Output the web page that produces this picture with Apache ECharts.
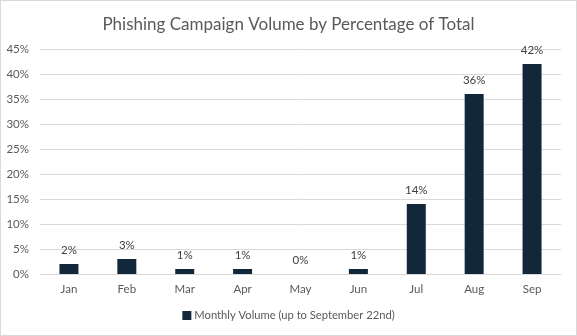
<!DOCTYPE html>
<html>
<head>
<meta charset="utf-8">
<script src="https://cdn.jsdelivr.net/npm/echarts@6/dist/echarts.min.js"></script>
<style>
  html, body { margin: 0; padding: 0; background: #fff; }
  #chart { width: 577px; height: 336px; box-sizing: border-box; border: 1px solid #d9d9d9; }
</style>
</head>
<body>
<div id="chart"></div>
<script>
// Monthly share of phishing campaign volume (percent of total)
const months = ['Jan', 'Feb', 'Mar', 'Apr', 'May', 'Jun', 'Jul', 'Aug', 'Sep'];
const volumePct = [2, 3, 1, 1, 0, 1, 14, 36, 42];
const seriesName = 'Monthly Volume (up to September 22nd)';
const yTicks = { min: 0, max: 45, interval: 5 };

const FONT = 'Lato, "Open Sans", sans-serif';
const chart = echarts.init(document.getElementById('chart'), null, { renderer: 'canvas' });

chart.setOption({
  animation: false,
  backgroundColor: '#ffffff',
  textStyle: { fontFamily: FONT },
  title: {
    text: 'Phishing Campaign Volume by Percentage of Total',
    left: 'center',
    top: 10,
    textStyle: { fontFamily: FONT, fontSize: 17, fontWeight: 'normal', color: '#595959' }
  },
  grid: { left: 39, right: 15, top: 48, bottom: 61, containLabel: false },
  legend: {
    bottom: 9,
    left: 'center',
    itemWidth: 9,
    itemHeight: 9,
    itemGap: 4,
    icon: 'rect',
    textStyle: { fontFamily: FONT, fontSize: 11.2, color: '#595959', padding: [0, 0, 0, -2] },
    data: [seriesName]
  },
  xAxis: {
    type: 'category',
    data: months,
    axisLine: { lineStyle: { color: '#d9d9d9' } },
    axisTick: { show: false },
    axisLabel: { color: '#595959', fontSize: 11.5, margin: 9, fontFamily: FONT }
  },
  yAxis: {
    type: 'value',
    min: yTicks.min,
    max: yTicks.max,
    interval: yTicks.interval,
    axisLine: { show: false },
    axisTick: { show: false },
    splitLine: { lineStyle: { color: '#d9d9d9' } },
    axisLabel: { color: '#595959', fontSize: 11.5, margin: 11, fontFamily: FONT, formatter: v => v + '%' }
  },
  series: [{
    name: seriesName,
    type: 'bar',
    data: volumePct,
    barWidth: 19,
    itemStyle: { color: '#13273b' },
    label: {
      show: true,
      position: 'top',
      distance: 8,
      color: '#404040',
      fontSize: 11.5,
      fontFamily: FONT,
      formatter: p => p.value + '%'
    }
  }]
});
</script>
</body>
</html>
